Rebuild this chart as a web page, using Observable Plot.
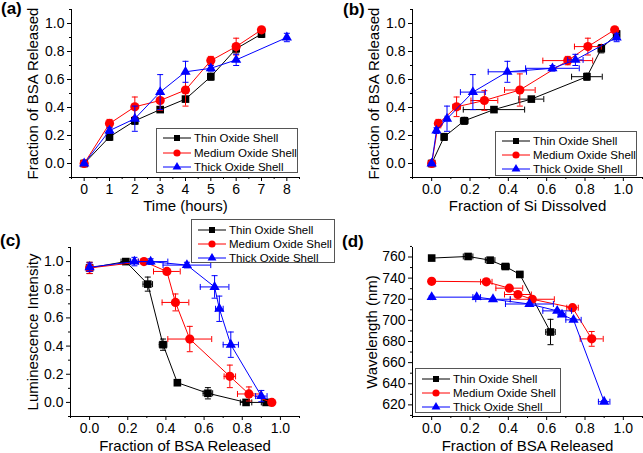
<!DOCTYPE html>
<html><head><meta charset="utf-8">
<script src="https://cdn.jsdelivr.net/npm/d3@7"></script>
<script src="https://cdn.jsdelivr.net/npm/@observablehq/plot@0.6"></script>
<style>
body{margin:0;background:#fff;}
#fig{position:relative;width:643px;height:453px;overflow:hidden;font-family:'Liberation Sans',Arial,sans-serif;color:#000;background:#fff;}
.panel{position:absolute;}
.plab{position:absolute;font-weight:bold;font-size:17px;line-height:18px;}
.leg{position:absolute;border:1px solid #555;background:#fff;box-sizing:border-box;}
.leg .t{position:absolute;font-size:11.5px;line-height:14px;white-space:nowrap;}
.leg svg{position:absolute;left:0;overflow:visible;}
</style></head><body><div id="fig"></div>
<script>
// ---------- data ----------
const seriesNames = ["Thin Oxide Shell", "Medium Oxide Shell", "Thick Oxide Shell"];
const seriesColors = ["#000000", "#ff0000", "#0000ff"];
const seriesSymbols = ["square", "circle", "triangle"];

// (a) time in hours
const thinTime = [0, 1, 2, 3, 4, 5, 6, 7];
const mediumTime = [0, 1, 2, 3, 4, 5, 6, 7];
const thickTime = [0, 1, 2, 3, 4, 5, 6, 8];

// fraction of BSA released (and its error)
const thinBSA = [0, 0.19, 0.305, 0.385, 0.46, 0.62, 0.82, 0.925];
const thinBSAErr = [0.005, 0.025, 0.025, 0.02, 0.015, 0.025, 0.03, 0.025];
const mediumBSA = [0, 0.285, 0.405, 0.45, 0.525, 0.735, 0.835, 0.955];
const mediumBSAErr = [0.005, 0.03, 0.07, 0.07, 0.115, 0.03, 0.06, 0.01];
const thickBSA = [0, 0.235, 0.32, 0.51, 0.655, 0.68, 0.74, 0.90];
const thickBSAErr = [0.005, 0.02, 0.09, 0.125, 0.075, 0.02, 0.04, 0.03];

// (b) fraction of Si dissolved
const thinSi = [0, 0.065, 0.17, 0.325, 0.52, 0.81, 0.885, 0.965];
const thinSiErr = [0, 0.01, 0.02, 0.16, 0.065, 0.08, 0.01, 0.01];
const mediumSi = [0, 0.035, 0.13, 0.275, 0.46, 0.71, 0.815, 0.955];
const mediumSiErr = [0, 0.01, 0.02, 0.07, 0.08, 0.13, 0.07, 0.01];
const thickSi = [0, 0.025, 0.08, 0.215, 0.395, 0.63, 0.75, 0.965];
const thickSiErr = [0, 0.01, 0.01, 0.065, 0.1, 0.14, 0.04, 0.01];

// (c) luminescence intensity
const thinLum = [0.955, 1.0, 0.84, 0.41, 0.14, 0.065, 0.0, 0.0];
const thinLumErr = [0.04, 0.01, 0.05, 0.04, 0.02, 0.04, 0.01, 0.01];
const mediumLum = [0.955, 1.0, 0.93, 0.71, 0.45, 0.185, 0.06, 0.0];
const mediumLumErr = [0.04, 0.01, 0.02, 0.06, 0.09, 0.08, 0.05, 0.01];
const thickLum = [0.96, 1.0, 1.0, 0.975, 0.82, 0.665, 0.41, 0.045];
const thickLumErr = [0.03, 0.03, 0.02, 0.02, 0.08, 0.09, 0.09, 0.04];

// (d) wavelength (nm)
const thinWave = [759, 760.5, 757, 751, 743.5, 689];
const thinWaveErr = [1, 1, 1, 1, 1, 12];
const mediumWave = [737, 736.5, 730.5, 724.5, 720, 712, 682.5];
const mediumWaveErr = [1, 1, 1, 1, 1, 1, 7];
const thickWave = [722, 722, 720, 715.5, 709, 705.5, 700.5, 623];
const thickWaveErr = [1, 1, 1, 1, 1, 1, 1, 1];

// tick values
const timeTicks = [0, 1, 2, 3, 4, 5, 6, 7, 8];
const timeMinorTicks = [-0.5, 0.5, 1.5, 2.5, 3.5, 4.5, 5.5, 6.5, 7.5, 8.5];
const fracTicks = [0, 0.2, 0.4, 0.6, 0.8, 1.0];
const fracMinorTicks = [-0.1, 0.1, 0.3, 0.5, 0.7, 0.9, 1.1];
const waveTicks = [620, 640, 660, 680, 700, 720, 740, 760];
const waveMinorTicks = [610, 630, 650, 670, 690, 710, 730, 750, 770];

// ---------- helpers ----------
const fmt1 = d3.format(".1f");
const hcap = {draw(ctx) { ctx.moveTo(-3, 0); ctx.lineTo(3, 0); }};
const vcap = {draw(ctx) { ctx.moveTo(0, -3); ctx.lineTo(0, 3); }};
const dotR = [4.3, 4.6, 3.8];

function pts(x, y, xe, ye) {
  return x.slice(0, y.length).map((v, i) => ({x: v, y: y[i], xe: xe ? xe[i] : 0, ye: ye ? ye[i] : 0}));
}

function seriesMarks(data, i) {
  const c = seriesColors[i];
  const ve = data.filter(d => d.ye > 0), he = data.filter(d => d.xe > 0);
  return [
    Plot.ruleX(ve, {x: "x", y1: d => d.y - d.ye, y2: d => d.y + d.ye, stroke: c, strokeWidth: 1}),
    Plot.dot(ve.flatMap(d => [{x: d.x, y: d.y - d.ye}, {x: d.x, y: d.y + d.ye}]),
      {x: "x", y: "y", symbol: hcap, stroke: c, fill: "none", strokeWidth: 1}),
    Plot.ruleY(he, {y: "y", x1: d => d.x - d.xe, x2: d => d.x + d.xe, stroke: c, strokeWidth: 1}),
    Plot.dot(he.flatMap(d => [{x: d.x - d.xe, y: d.y}, {x: d.x + d.xe, y: d.y}]),
      {x: "x", y: "y", symbol: vcap, stroke: c, fill: "none", strokeWidth: 1}),
    Plot.line(data, {x: "x", y: "y", stroke: c, strokeWidth: 1}),
    Plot.dot(data, {x: "x", y: "y", symbol: seriesSymbols[i], fill: c, stroke: "none", r: dotR[i]})
  ];
}

const fig = document.getElementById("fig");

function panel(o) {
  const chart = Plot.plot({
    width: o.width, height: o.height,
    marginTop: o.mt, marginRight: o.mr, marginBottom: o.mb, marginLeft: o.ml,
    x: {domain: o.xDom},
    y: {domain: o.yDom},
    style: {fontFamily: "'Liberation Sans', Arial, sans-serif", fontSize: "14px", background: "transparent", color: "#000", overflow: "visible"},
    marks: [
      Plot.axisX({ticks: o.xMinor, tickSize: 2, tickFormat: () => "", label: null}),
      Plot.axisX({ticks: o.xMajor, tickSize: 4, tickPadding: 3, tickFormat: o.xFmt, label: null, fontSize: 14}),
      Plot.axisY({ticks: o.yMinor, tickSize: 2, tickFormat: () => "", label: null}),
      Plot.axisY({ticks: o.yMajor, tickSize: 4, tickPadding: 3, tickFormat: o.yFmt, label: null, fontSize: 14}),
      Plot.ruleY([o.yDom[0]], {stroke: "#000", strokeWidth: 1}),
      Plot.ruleX([o.xDom[0]], {stroke: "#000", strokeWidth: 1}),
      Plot.text([o.xTitle], {text: d => d, frameAnchor: "bottom", dy: o.xTitleDy, fontSize: 15, textAnchor: "middle", lineAnchor: "middle"}),
      Plot.text([o.yTitle], {text: d => d, frameAnchor: "left", dx: o.yTitleDx, rotate: -90, fontSize: 15, textAnchor: "middle", lineAnchor: "middle"}),
      ...o.series.flatMap((s, i) => seriesMarks(s, i))
    ]
  });
  const div = document.createElement("div");
  div.className = "panel";
  div.style.left = o.left + "px"; div.style.top = o.top + "px";
  div.style.width = o.width + "px"; div.style.height = o.height + "px";
  div.appendChild(chart);
  fig.appendChild(div);
  const lab = document.createElement("div");
  lab.className = "plab";
  lab.textContent = o.tag;
  lab.style.left = o.tagX + "px"; lab.style.top = o.tagY + "px";
  fig.appendChild(lab);
}

function legend(left, top, width, height, rows) {
  const box = document.createElement("div");
  box.className = "leg";
  Object.assign(box.style, {left: left + "px", top: top + "px", width: width + "px", height: height + "px"});
  const lx0 = 6, lx1 = 34, tx = 37;
  seriesNames.forEach((name, i) => {
    const ns = "http://www.w3.org/2000/svg";
    const svg = document.createElementNS(ns, "svg");
    svg.setAttribute("width", lx1 + 2); svg.setAttribute("height", 14);
    svg.style.top = (rows[i] - 7) + "px";
    const ln = document.createElementNS(ns, "line");
    ln.setAttribute("x1", lx0); ln.setAttribute("x2", lx1); ln.setAttribute("y1", 7); ln.setAttribute("y2", 7);
    ln.setAttribute("stroke", seriesColors[i]); ln.setAttribute("stroke-width", 1);
    svg.appendChild(ln);
    const sym = {square: d3.symbolSquare, circle: d3.symbolCircle, triangle: d3.symbolTriangle}[seriesSymbols[i]];
    const p = document.createElementNS(ns, "path");
    p.setAttribute("d", d3.symbol(sym, [36, 40, 34][i])());
    p.setAttribute("transform", `translate(${(lx0 + lx1) / 2},7)`);
    p.setAttribute("fill", seriesColors[i]);
    svg.appendChild(p);
    box.appendChild(svg);
    const t = document.createElement("div");
    t.className = "t"; t.textContent = name;
    t.style.left = tx + "px"; t.style.top = (rows[i] - 7) + "px";
    box.appendChild(t);
  });
  fig.appendChild(box);
}

// ---------- panels ----------
panel({
  tag: "(a)", tagX: 1, tagY: 0,
  left: 0, top: 0, width: 322, height: 226, mt: 9, mr: 23, mb: 49, ml: 71,
  xDom: [-0.5, 8.5], yDom: [-0.1, 1.1],
  xMajor: timeTicks, xMinor: timeMinorTicks, xFmt: d => String(d),
  yMajor: fracTicks, yMinor: fracMinorTicks, yFmt: fmt1,
  xTitle: "Time (hours)", yTitle: "Fraction of BSA Released", xTitleDy: 29, yTitleDx: -38,
  series: [pts(thinTime, thinBSA, null, thinBSAErr), pts(mediumTime, mediumBSA, null, mediumBSAErr), pts(thickTime, thickBSA, null, thickBSAErr)]
});
panel({
  tag: "(b)", tagX: 343, tagY: 1,
  left: 322, top: 0, width: 321, height: 226, mt: 9, mr: 1, mb: 49, ml: 90,
  xDom: [-0.1, 1.1], yDom: [-0.1, 1.1],
  xMajor: fracTicks, xMinor: fracMinorTicks, xFmt: fmt1,
  yMajor: fracTicks, yMinor: fracMinorTicks, yFmt: fmt1,
  xTitle: "Fraction of Si Dissolved", yTitle: "Fraction of BSA Released", xTitleDy: 29, yTitleDx: -38,
  series: [pts(thinSi, thinBSA, thinSiErr, thinBSAErr), pts(mediumSi, mediumBSA, mediumSiErr, mediumBSAErr), pts(thickSi, thickBSA, thickSiErr, thickBSAErr)]
});
panel({
  tag: "(c)", tagX: 0, tagY: 232,
  left: 0, top: 226, width: 322, height: 227, mt: 21, mr: 23, mb: 37, ml: 70,
  xDom: [-0.1, 1.1], yDom: [-0.1, 1.1],
  xMajor: fracTicks, xMinor: fracMinorTicks, xFmt: fmt1,
  yMajor: fracTicks, yMinor: fracMinorTicks, yFmt: fmt1,
  xTitle: "Fraction of BSA Released", yTitle: "Luminescence Intensity", xTitleDy: 30, yTitleDx: -37,
  series: [pts(thinBSA, thinLum, thinBSAErr, thinLumErr), pts(mediumBSA, mediumLum, mediumBSAErr, mediumLumErr), pts(thickBSA, thickLum, thickBSAErr, thickLumErr)]
});
panel({
  tag: "(d)", tagX: 342, tagY: 233,
  left: 322, top: 226, width: 321, height: 227, mt: 21, mr: 1, mb: 37, ml: 90,
  xDom: [-0.1, 1.1], yDom: [609, 769],
  xMajor: fracTicks, xMinor: fracMinorTicks, xFmt: fmt1,
  yMajor: waveTicks, yMinor: waveMinorTicks, yFmt: d => String(d),
  xTitle: "Fraction of BSA Released", yTitle: "Wavelength (nm)", xTitleDy: 30, yTitleDx: -40,
  series: [pts(thinBSA, thinWave, thinBSAErr, thinWaveErr), pts(mediumBSA, mediumWave, mediumBSAErr, mediumWaveErr), pts(thickBSA, thickWave, thickBSAErr, thickWaveErr)]
});

legend(156, 128, 142, 45, [9, 23.5, 38]);
legend(495, 131, 142, 45, [9, 23, 37]);
legend(191, 219, 144, 44, [10, 24, 38]);
legend(415, 368, 146, 45, [10, 24, 38]);
</script></body></html>
